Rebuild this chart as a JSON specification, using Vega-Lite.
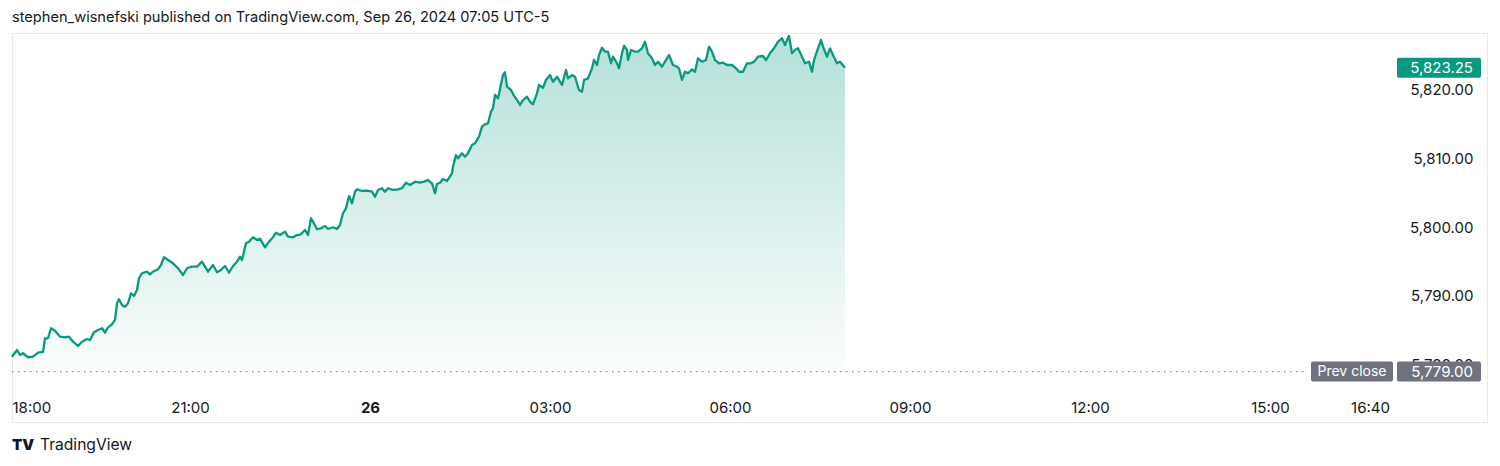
{
  "$schema": "https://vega.github.io/schema/vega-lite/v6.json",
  "autosize": "none",
  "padding": {"left": 12, "top": 33, "right": 13, "bottom": 44},
  "width": 1475,
  "height": 389,
  "background": "#ffffff",
  "config": {
    "view": {"stroke": "#e4ebeb", "strokeWidth": 1},
    "font": "Inter"
  },
  "title": {
    "text": "stephen_wisnefski published on TradingView.com, Sep 26, 2024 07:05 UTC-5",
    "anchor": "start",
    "frame": "group",
    "offset": 8,
    "fontSize": 14.6,
    "fontWeight": "normal",
    "font": "Inter",
    "color": "#131722"
  },
  "datasets": {
    "es": [
      {"minute": 2, "price": 5781.16}, {"minute": 7, "price": 5782.14}, {"minute": 10, "price": 5781.41}, {"minute": 13, "price": 5781.66},
      {"minute": 18, "price": 5781.08}, {"minute": 23, "price": 5781.16}, {"minute": 28, "price": 5781.75}, {"minute": 33, "price": 5781.85},
      {"minute": 35, "price": 5783.84}, {"minute": 38, "price": 5783.84}, {"minute": 41, "price": 5785.30}, {"minute": 45, "price": 5784.95},
      {"minute": 50, "price": 5784.08}, {"minute": 55, "price": 5783.99}, {"minute": 59, "price": 5784.08}, {"minute": 63, "price": 5783.35},
      {"minute": 68, "price": 5782.72}, {"minute": 72, "price": 5783.35}, {"minute": 77, "price": 5783.74}, {"minute": 80, "price": 5783.59},
      {"minute": 84, "price": 5784.72}, {"minute": 88, "price": 5785.05}, {"minute": 92, "price": 5785.30}, {"minute": 95, "price": 5784.66},
      {"minute": 98, "price": 5785.44}, {"minute": 102, "price": 5785.88}, {"minute": 105, "price": 5786.51}, {"minute": 107, "price": 5788.94},
      {"minute": 109, "price": 5789.52}, {"minute": 112, "price": 5788.69}, {"minute": 115, "price": 5788.44}, {"minute": 118, "price": 5788.94},
      {"minute": 121, "price": 5790.40}, {"minute": 124, "price": 5790.00}, {"minute": 127, "price": 5790.88}, {"minute": 129, "price": 5792.58},
      {"minute": 132, "price": 5793.31}, {"minute": 137, "price": 5793.54}, {"minute": 140, "price": 5793.16}, {"minute": 143, "price": 5793.54},
      {"minute": 148, "price": 5793.89}, {"minute": 151, "price": 5794.52}, {"minute": 154, "price": 5795.64}, {"minute": 158, "price": 5795.24},
      {"minute": 163, "price": 5794.76}, {"minute": 168, "price": 5794.04}, {"minute": 173, "price": 5793.06}, {"minute": 177, "price": 5794.04},
      {"minute": 182, "price": 5794.27}, {"minute": 187, "price": 5794.27}, {"minute": 192, "price": 5795.00}, {"minute": 195, "price": 5794.27},
      {"minute": 198, "price": 5793.54}, {"minute": 203, "price": 5794.52}, {"minute": 207, "price": 5793.45}, {"minute": 211, "price": 5793.79},
      {"minute": 215, "price": 5794.37}, {"minute": 219, "price": 5793.40}, {"minute": 223, "price": 5794.37}, {"minute": 227, "price": 5795.00},
      {"minute": 230, "price": 5795.73}, {"minute": 232, "price": 5795.24}, {"minute": 236, "price": 5797.68}, {"minute": 239, "price": 5797.91},
      {"minute": 243, "price": 5798.55}, {"minute": 247, "price": 5798.16}, {"minute": 250, "price": 5798.35}, {"minute": 255, "price": 5797.09},
      {"minute": 259, "price": 5797.91}, {"minute": 263, "price": 5798.55}, {"minute": 266, "price": 5799.22}, {"minute": 270, "price": 5798.89},
      {"minute": 275, "price": 5799.37}, {"minute": 278, "price": 5798.64}, {"minute": 283, "price": 5798.55}, {"minute": 287, "price": 5798.89},
      {"minute": 290, "price": 5798.89}, {"minute": 295, "price": 5799.61}, {"minute": 298, "price": 5798.89}, {"minute": 301, "price": 5801.32},
      {"minute": 303, "price": 5800.82}, {"minute": 307, "price": 5799.72}, {"minute": 311, "price": 5799.86}, {"minute": 315, "price": 5800.20},
      {"minute": 318, "price": 5799.76}, {"minute": 323, "price": 5800.01}, {"minute": 327, "price": 5799.76}, {"minute": 330, "price": 5800.34},
      {"minute": 333, "price": 5802.05}, {"minute": 336, "price": 5802.77}, {"minute": 339, "price": 5804.56}, {"minute": 342, "price": 5803.50},
      {"minute": 345, "price": 5805.19}, {"minute": 347, "price": 5805.54}, {"minute": 352, "price": 5805.29}, {"minute": 357, "price": 5805.34},
      {"minute": 362, "price": 5805.19}, {"minute": 365, "price": 5804.46}, {"minute": 368, "price": 5805.44}, {"minute": 372, "price": 5805.69},
      {"minute": 375, "price": 5805.19}, {"minute": 378, "price": 5805.69}, {"minute": 383, "price": 5805.44}, {"minute": 388, "price": 5805.54},
      {"minute": 392, "price": 5805.69}, {"minute": 396, "price": 5806.50}, {"minute": 400, "price": 5806.17}, {"minute": 405, "price": 5806.65},
      {"minute": 410, "price": 5806.50}, {"minute": 414, "price": 5806.65}, {"minute": 418, "price": 5806.89}, {"minute": 422, "price": 5806.41},
      {"minute": 425, "price": 5804.96}, {"minute": 427, "price": 5806.31}, {"minute": 430, "price": 5806.50}, {"minute": 433, "price": 5807.04},
      {"minute": 437, "price": 5806.75}, {"minute": 442, "price": 5807.87}, {"minute": 443, "price": 5808.83}, {"minute": 446, "price": 5810.53},
      {"minute": 448, "price": 5810.05}, {"minute": 452, "price": 5810.78}, {"minute": 455, "price": 5810.29}, {"minute": 458, "price": 5810.78},
      {"minute": 462, "price": 5811.99}, {"minute": 465, "price": 5812.24}, {"minute": 469, "price": 5813.20}, {"minute": 472, "price": 5814.66},
      {"minute": 475, "price": 5815.01}, {"minute": 478, "price": 5815.15}, {"minute": 481, "price": 5816.84}, {"minute": 483, "price": 5817.34},
      {"minute": 485, "price": 5819.27}, {"minute": 488, "price": 5818.79}, {"minute": 493, "price": 5822.18}, {"minute": 495, "price": 5822.58},
      {"minute": 497, "price": 5820.48}, {"minute": 501, "price": 5820.00}, {"minute": 504, "price": 5819.17}, {"minute": 507, "price": 5818.54},
      {"minute": 510, "price": 5817.82}, {"minute": 513, "price": 5818.54}, {"minute": 517, "price": 5819.02}, {"minute": 520, "price": 5818.30},
      {"minute": 523, "price": 5817.92}, {"minute": 527, "price": 5819.52}, {"minute": 529, "price": 5820.73}, {"minute": 533, "price": 5820.33},
      {"minute": 536, "price": 5821.46}, {"minute": 540, "price": 5822.18}, {"minute": 543, "price": 5821.21}, {"minute": 547, "price": 5821.94},
      {"minute": 552, "price": 5820.73}, {"minute": 556, "price": 5822.91}, {"minute": 558, "price": 5821.70}, {"minute": 562, "price": 5822.18},
      {"minute": 565, "price": 5821.94}, {"minute": 569, "price": 5820.00}, {"minute": 572, "price": 5819.75}, {"minute": 574, "price": 5821.46},
      {"minute": 578, "price": 5821.70}, {"minute": 582, "price": 5823.16}, {"minute": 584, "price": 5824.37}, {"minute": 587, "price": 5823.64},
      {"minute": 589, "price": 5825.10}, {"minute": 592, "price": 5826.16}, {"minute": 595, "price": 5825.58}, {"minute": 598, "price": 5825.58},
      {"minute": 601, "price": 5823.89}, {"minute": 603, "price": 5824.85}, {"minute": 607, "price": 5823.89}, {"minute": 609, "price": 5823.16},
      {"minute": 612, "price": 5825.34}, {"minute": 614, "price": 5826.45}, {"minute": 617, "price": 5825.82}, {"minute": 618, "price": 5824.37},
      {"minute": 621, "price": 5825.82}, {"minute": 625, "price": 5825.60}, {"minute": 628, "price": 5825.58}, {"minute": 632, "price": 5826.07},
      {"minute": 635, "price": 5827.03}, {"minute": 638, "price": 5825.34}, {"minute": 642, "price": 5824.62}, {"minute": 645, "price": 5823.64},
      {"minute": 648, "price": 5824.12}, {"minute": 652, "price": 5823.39}, {"minute": 655, "price": 5824.12}, {"minute": 659, "price": 5825.10},
      {"minute": 663, "price": 5823.64}, {"minute": 667, "price": 5823.39}, {"minute": 669, "price": 5823.16}, {"minute": 672, "price": 5821.46},
      {"minute": 675, "price": 5822.66}, {"minute": 678, "price": 5822.43}, {"minute": 682, "price": 5823.01}, {"minute": 685, "price": 5822.66},
      {"minute": 688, "price": 5824.62}, {"minute": 692, "price": 5824.12}, {"minute": 696, "price": 5824.37}, {"minute": 699, "price": 5826.31},
      {"minute": 702, "price": 5825.58}, {"minute": 705, "price": 5824.37}, {"minute": 709, "price": 5823.89}, {"minute": 713, "price": 5823.98},
      {"minute": 717, "price": 5823.64}, {"minute": 722, "price": 5823.64}, {"minute": 726, "price": 5823.16}, {"minute": 729, "price": 5822.66},
      {"minute": 733, "price": 5822.66}, {"minute": 737, "price": 5823.89}, {"minute": 741, "price": 5823.89}, {"minute": 744, "price": 5824.12},
      {"minute": 748, "price": 5824.85}, {"minute": 753, "price": 5824.95}, {"minute": 756, "price": 5824.37}, {"minute": 760, "price": 5825.34},
      {"minute": 764, "price": 5826.07}, {"minute": 768, "price": 5827.03}, {"minute": 772, "price": 5827.53}, {"minute": 775, "price": 5826.55},
      {"minute": 777, "price": 5827.28}, {"minute": 779, "price": 5827.86}, {"minute": 782, "price": 5825.34}, {"minute": 785, "price": 5825.82},
      {"minute": 788, "price": 5826.07}, {"minute": 792, "price": 5824.85}, {"minute": 795, "price": 5823.89}, {"minute": 799, "price": 5824.12},
      {"minute": 802, "price": 5822.66}, {"minute": 804, "price": 5824.37}, {"minute": 808, "price": 5826.07}, {"minute": 811, "price": 5827.28},
      {"minute": 813, "price": 5826.31}, {"minute": 817, "price": 5824.85}, {"minute": 820, "price": 5826.07}, {"minute": 823, "price": 5825.10},
      {"minute": 827, "price": 5823.89}, {"minute": 830, "price": 5824.12}, {"minute": 835, "price": 5823.25}
    ],
    "last": [{"last_price": 5823.25}],
    "prev": [{"prev_close": 5779.0, "tag": "Prev close"}],
    "brand": [{"logo": "TV", "name": "TradingView"}]
  },
  "layer": [
    {
      "data": {"name": "es"},
      "mark": {
        "type": "area",
        "color": {
          "gradient": "linear", "x1": 0, "y1": 0, "x2": 0, "y2": 1,
          "stops": [
            {"offset": 0, "color": "rgba(8,153,129,0.30)"},
            {"offset": 1, "color": "rgba(8,153,129,0.02)"}
          ]
        }
      },
      "encoding": {
        "x": {
          "field": "minute", "type": "quantitative",
          "scale": {"domain": [2, 1477], "nice": false, "zero": false},
          "axis": {
            "orient": "bottom", "offset": -27, "title": "",
            "values": [2, 180, 360, 540, 720, 900, 1080, 1260, 1360],
            "labelExpr": "datum.value == 2 ? '18:00' : datum.value == 180 ? '21:00' : datum.value == 360 ? '26' : datum.value == 540 ? '03:00' : datum.value == 720 ? '06:00' : datum.value == 900 ? '09:00' : datum.value == 1080 ? '12:00' : datum.value == 1260 ? '15:00' : '16:40'",
            "labelAlign": {"condition": {"test": "datum.value == 2", "value": "left"}, "value": "center"},
            "labelFontWeight": {"condition": {"test": "datum.value == 360", "value": "bold"}, "value": "normal"},
            "labelFont": "Inter", "labelFontSize": 15, "labelColor": "#131722",
            "labelPadding": 5, "ticks": false, "domain": false, "grid": false,
            "labelOverlap": false, "labelFlush": false
          }
        },
        "y": {
          "field": "price", "type": "quantitative",
          "scale": {"domain": [5771.65, 5828.30], "nice": false, "zero": false},
          "axis": {
            "orient": "right", "offset": -14, "title": "",
            "values": [5780, 5790, 5800, 5810, 5820],
            "format": ",.2f",
            "labelAlign": "right", "labelPadding": 0, "labelBaseline": "middle",
            "labelFont": "Inter", "labelFontSize": 15, "labelColor": "#131722",
            "ticks": false, "domain": false, "grid": false, "labelOverlap": false, "labelFlush": false
          }
        },
        "y2": {"datum": 5779.4}
      }
    },
    {
      "data": {"name": "es"},
      "mark": {"type": "line", "color": "#089981", "strokeWidth": 2.3, "strokeJoin": "round"},
      "encoding": {
        "x": {"field": "minute", "type": "quantitative"},
        "y": {"field": "price", "type": "quantitative"}
      }
    },
    {
      "data": {"name": "prev"},
      "mark": {"type": "rule", "color": "#8a8d97", "strokeWidth": 1.3, "strokeDash": [1.5, 4.5]},
      "encoding": {
        "x": {"datum": 2, "type": "quantitative"},
        "x2": {"datum": 1298},
        "y": {"field": "prev_close", "type": "quantitative"}
      }
    },
    {
      "data": {"name": "prev"},
      "mark": {"type": "tick", "orient": "horizontal", "color": "#70737f", "size": 82, "thickness": 20, "opacity": 1, "cornerRadius": 2},
      "encoding": {
        "x": {"datum": 1342, "type": "quantitative"},
        "y": {"field": "prev_close", "type": "quantitative"}
      }
    },
    {
      "data": {"name": "prev"},
      "mark": {"type": "tick", "orient": "horizontal", "color": "#70737f", "size": 84, "thickness": 20, "opacity": 1, "cornerRadius": 2},
      "encoding": {
        "x": {"datum": 1429, "type": "quantitative"},
        "y": {"field": "prev_close", "type": "quantitative"}
      }
    },
    {
      "data": {"name": "prev"},
      "mark": {"type": "text", "color": "#ffffff", "font": "Inter", "fontSize": 14, "align": "center", "baseline": "middle"},
      "encoding": {
        "x": {"datum": 1342, "type": "quantitative"},
        "y": {"field": "prev_close", "type": "quantitative"},
        "text": {"field": "tag"}
      }
    },
    {
      "data": {"name": "prev"},
      "mark": {"type": "text", "color": "#ffffff", "font": "Inter", "fontSize": 15, "align": "right", "baseline": "middle"},
      "encoding": {
        "x": {"datum": 1463, "type": "quantitative"},
        "y": {"field": "prev_close", "type": "quantitative"},
        "text": {"field": "prev_close", "format": ",.2f"}
      }
    },
    {
      "data": {"name": "last"},
      "mark": {"type": "tick", "orient": "horizontal", "color": "#089981", "size": 84, "thickness": 20, "opacity": 1, "cornerRadius": 2},
      "encoding": {
        "x": {"datum": 1429, "type": "quantitative"},
        "y": {"field": "last_price", "type": "quantitative"}
      }
    },
    {
      "data": {"name": "last"},
      "mark": {"type": "text", "color": "#ffffff", "font": "Inter", "fontSize": 15, "align": "right", "baseline": "middle"},
      "encoding": {
        "x": {"datum": 1463, "type": "quantitative"},
        "y": {"field": "last_price", "type": "quantitative"},
        "text": {"field": "last_price", "format": ",.2f"}
      }
    },
    {
      "data": {"name": "brand"},
      "mark": {"type": "text", "color": "#131722", "font": "Inter", "fontSize": 15, "fontWeight": 900, "align": "left", "baseline": "middle", "letterSpacing": -1},
      "encoding": {
        "x": {"datum": 2, "type": "quantitative"},
        "y": {"datum": 5768.3, "type": "quantitative"},
        "text": {"field": "logo"}
      }
    },
    {
      "data": {"name": "brand"},
      "mark": {"type": "text", "color": "#131722", "font": "Inter", "fontSize": 15.6, "align": "left", "baseline": "middle"},
      "encoding": {
        "x": {"datum": 30, "type": "quantitative"},
        "y": {"datum": 5768.3, "type": "quantitative"},
        "text": {"field": "name"}
      }
    }
  ]
}
